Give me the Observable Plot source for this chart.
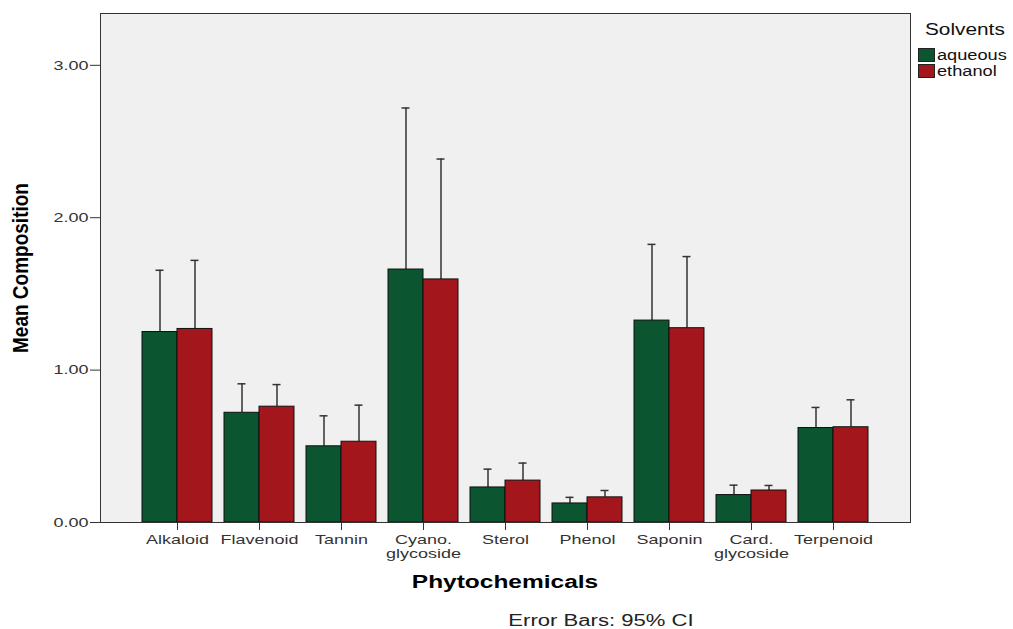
<!DOCTYPE html>
<html>
<head>
<meta charset="utf-8">
<script src="https://cdn.jsdelivr.net/npm/d3@7"></script>
<script src="https://cdn.jsdelivr.net/npm/@observablehq/plot@0.6"></script>
<style>
  body { margin: 0; background: #fff; font-family: "Liberation Sans", Arial, sans-serif; }
  #wrap { position: relative; width: 1013px; height: 629px; overflow: hidden; }
  #chart { position: absolute; left: 0; top: 0; }
  .lbl { position: absolute; color: #000; white-space: nowrap; }
  #ylab { left: 21px; top: 268px; transform: translate(-50%, -50%) rotate(-90deg) scaleY(1.2); font-weight: bold; font-size: 19px; }
  #xlab { left: 505px; top: 582px; transform: translate(-50%, -50%) scaleX(1.36); font-weight: bold; font-size: 18px; }
  #cap { left: 601px; top: 621px; transform: translate(-50%, -50%) scaleX(1.38); font-size: 16px; color: #222; }
  .leg { position: absolute; white-space: nowrap; color: #111; transform-origin: left center; }
  .sw { position: absolute; width: 17px; height: 14px; border: 1px solid #222; box-sizing: border-box; }
</style>
</head>
<body>
<div id="wrap">
  <div id="chart"></div>
  <div class="lbl" id="ylab">Mean Composition</div>
  <div class="lbl" id="xlab">Phytochemicals</div>
  <div class="lbl" id="cap">Error Bars: 95% CI</div>
  <div id="legend"></div>
</div>
<script>
const categories = ["Alkaloid", "Flavenoid", "Tannin", "Cyano.\nglycoside", "Sterol", "Phenol", "Saponin", "Card.\nglycoside", "Terpenoid"];
const solvents = ["aqueous", "ethanol"];
const solventColors = ["#0b5530", "#a3161b"];
const aqueousMean = [1.25, 0.72, 0.50, 1.66, 0.23, 0.125, 1.325, 0.18, 0.62];
const ethanolMean = [1.27, 0.76, 0.53, 1.595, 0.275, 0.165, 1.275, 0.21, 0.625];
const aqueousUpper = [1.655, 0.91, 0.70, 2.72, 0.35, 0.165, 1.825, 0.245, 0.755];
const ethanolUpper = [1.72, 0.905, 0.77, 2.385, 0.39, 0.21, 1.745, 0.243, 0.805];
const yTicks = [0, 1, 2, 3];

const aq = categories.map((c, i) => ({cat: c, mean: aqueousMean[i], upper: aqueousUpper[i]}));
const et = categories.map((c, i) => ({cat: c, mean: ethanolMean[i], upper: ethanolUpper[i]}));

const half = 35;   // half of the group band width
const cap = 4;     // half cap width
const errStroke = "#333";

const chart = Plot.plot({
  width: 1013,
  height: 600,
  marginLeft: 100,
  marginRight: 103,
  marginTop: 13,
  marginBottom: 78,
  style: { fontFamily: "Liberation Sans, Arial, sans-serif", fontSize: "13.5px", color: "#333" },
  x: { domain: categories, paddingInner: 0.15, paddingOuter: 0.49, label: null, tickSize: 8, tickPadding: 4 },
  y: { domain: [0, 3.34], ticks: yTicks, tickFormat: d => d.toFixed(2), label: null, tickSize: 10, tickPadding: 2 },
  marks: [
    Plot.frame({ fill: "#f0f0f0", stroke: null }),
    Plot.ruleX(aq, { x: "cat", y1: "mean", y2: "upper", dx: -half / 2, stroke: errStroke, strokeWidth: 1.5 }),
    Plot.ruleX(et, { x: "cat", y1: "mean", y2: "upper", dx: half / 2, stroke: errStroke, strokeWidth: 1.5 }),
    Plot.tickY(aq, { x: "cat", y: "upper", insetLeft: half / 2 - cap, insetRight: half * 2 - half / 2 - cap, stroke: errStroke, strokeWidth: 1.5 }),
    Plot.tickY(et, { x: "cat", y: "upper", insetLeft: half * 2 - half / 2 - cap, insetRight: half / 2 - cap, stroke: errStroke, strokeWidth: 1.5 }),
    Plot.barY(aq, { x: "cat", y: "mean", insetRight: half, fill: solventColors[0], stroke: "#111", strokeWidth: 1 }),
    Plot.barY(et, { x: "cat", y: "mean", insetLeft: half, fill: solventColors[1], stroke: "#111", strokeWidth: 1 }),
    Plot.ruleY([0], { stroke: "#111", strokeWidth: 1.2 }),
    Plot.frame({ stroke: "#333", strokeWidth: 1 })
  ]
});
document.getElementById("chart").appendChild(chart);

// widen tick label glyphs horizontally (the reference type is horizontally stretched)
const stretch = 1.33;
chart.querySelectorAll("text").forEach(t => {
  const spans = t.querySelectorAll("tspan");
  const targets = spans.length ? Array.from(spans) : [t];
  targets.forEach(el => {
    const len = el.getComputedTextLength();
    if (len > 0) {
      el.setAttribute("textLength", (len * stretch).toFixed(1));
      el.setAttribute("lengthAdjust", "spacingAndGlyphs");
    }
  });
});

// legend
const wrap = document.getElementById("wrap");
function addText(txt, x, y, size) {
  const d = document.createElement("div");
  d.className = "leg";
  d.textContent = txt;
  d.style.left = x + "px";
  d.style.top = y + "px";
  d.style.fontSize = size + "px";
  d.style.transform = "translateY(-50%) scaleX(1.3)";
  wrap.appendChild(d);
}
addText("Solvents", 925, 30, 16);
solvents.forEach((s, i) => {
  const sw = document.createElement("div");
  sw.className = "sw";
  sw.style.left = "918px";
  sw.style.top = (48 + i * 16) + "px";
  sw.style.background = solventColors[i];
  wrap.appendChild(sw);
  addText(s, 937, 55 + i * 16, 14);
});
</script>
</body>
</html>
